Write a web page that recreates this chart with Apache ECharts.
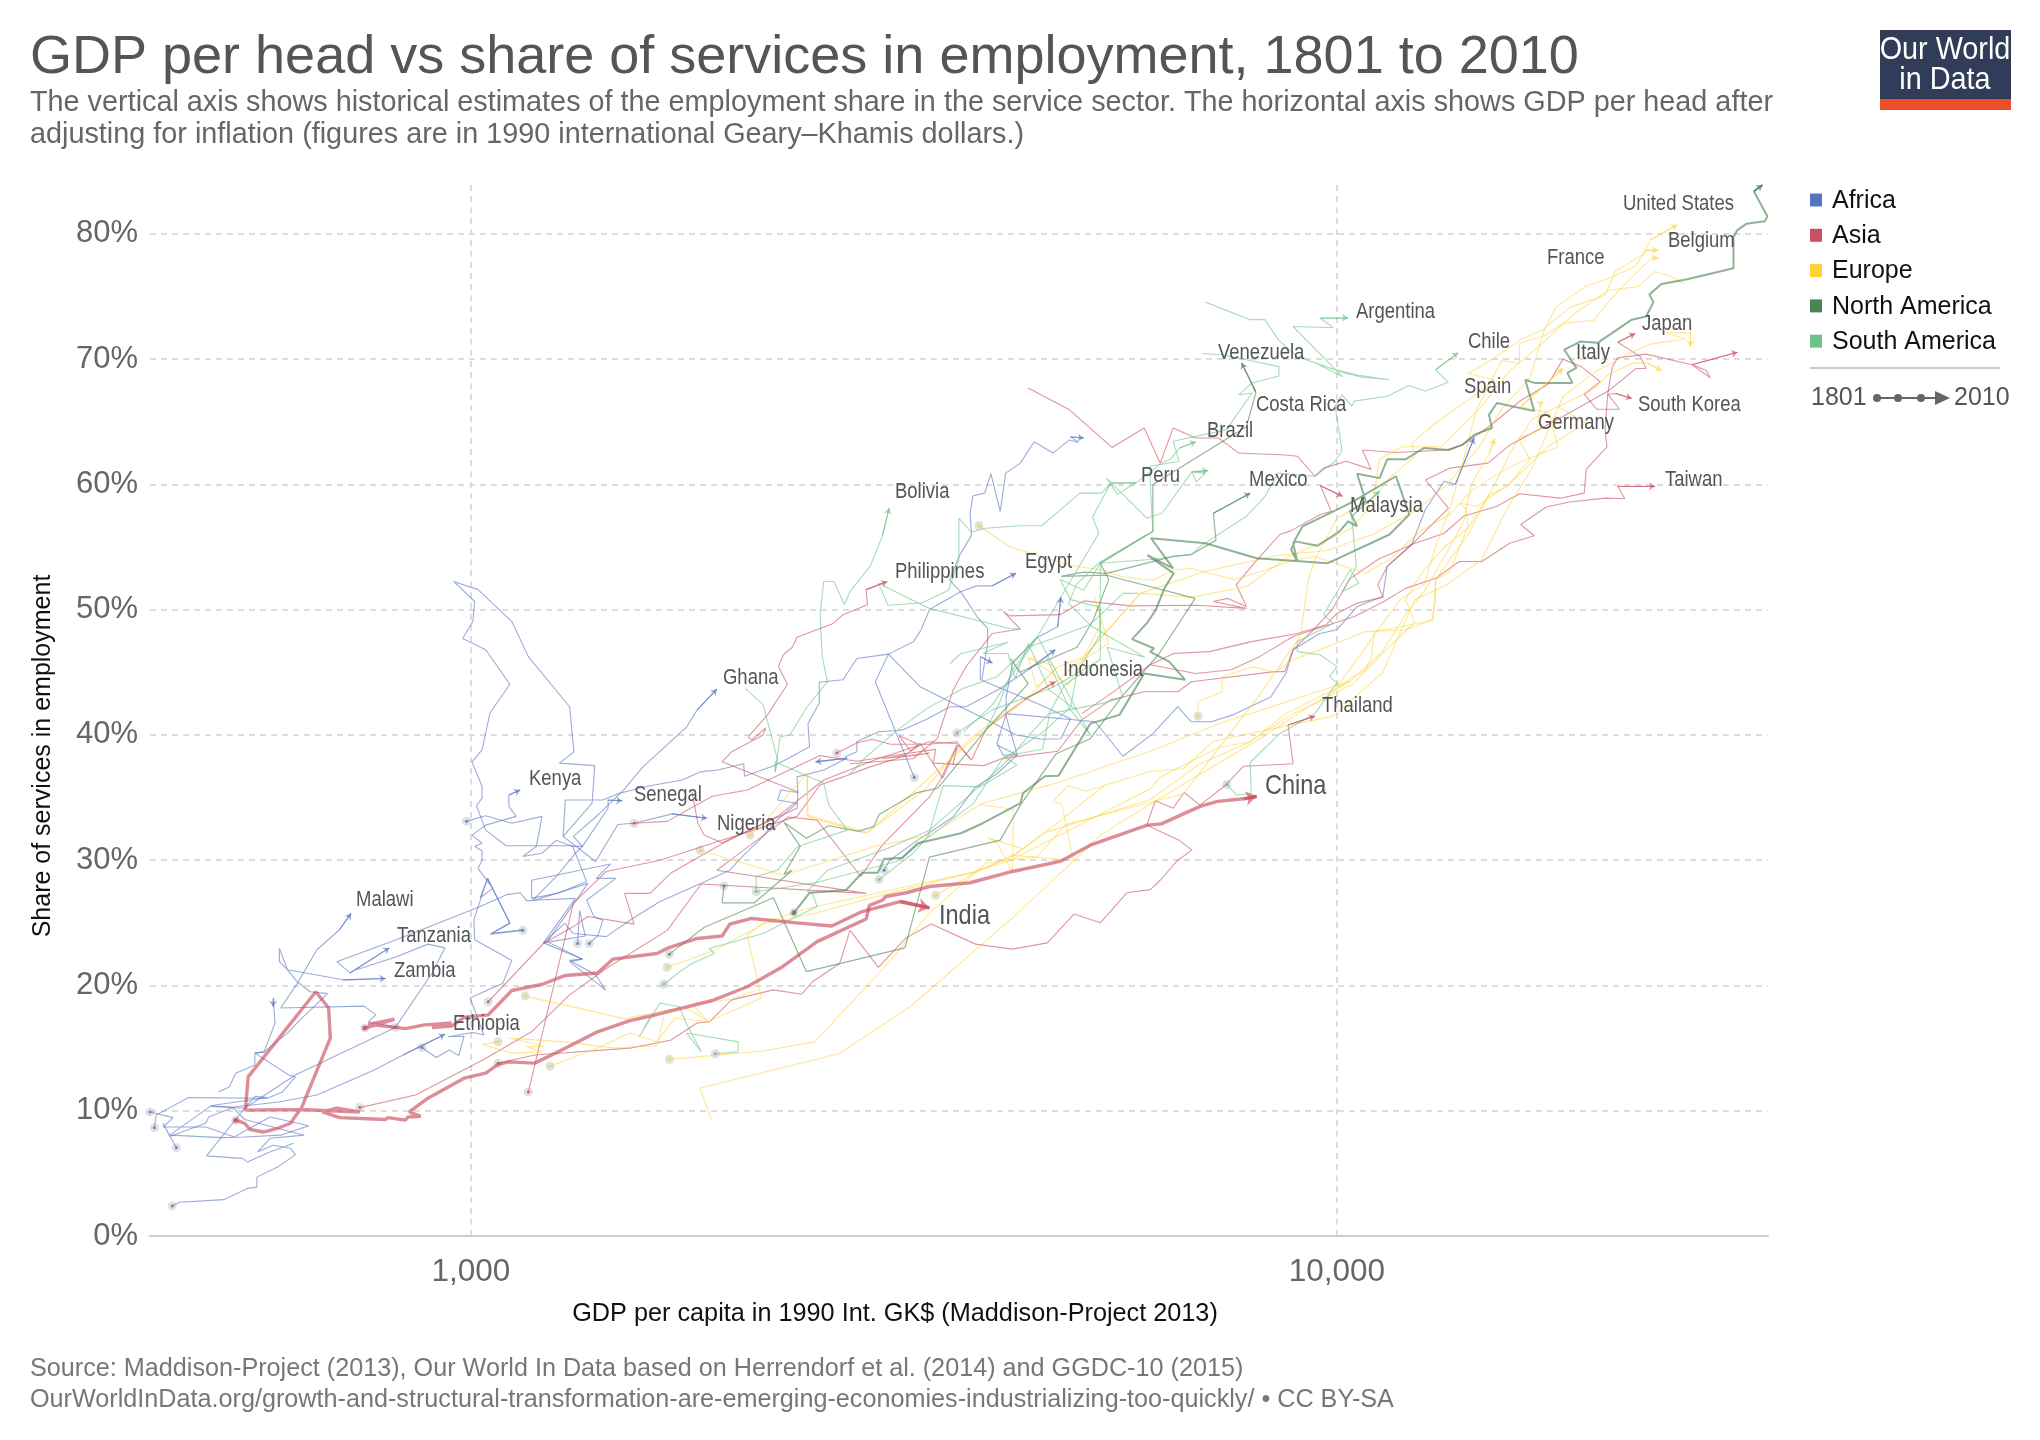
<!DOCTYPE html>
<html>
<head>
<meta charset="utf-8">
<title>GDP per head vs share of services in employment</title>
<script src="https://cdn.jsdelivr.net/npm/echarts@6/dist/echarts.min.js"></script>
<style>
  html, body { margin: 0; padding: 0; background: #fff; }
  #chart { width: 2040px; height: 1440px; }
</style>
</head>
<body>
<div id="chart"></div>
<script>
// values: [GDP per capita, share of services in %]
// Africa
var nigeria = [[1370,23.35],[1402,24],[1420,25.2],[1387,25.5],[1360,26.8],[1470,28.55],[1395,28.55],[1450,29.7],[1175,28.4],[1175,26.95],[1258,27.35],[1360,28.3],[1310,31.15],[1098,31.15],[1040,32.4],[1015,34.35],[1030,34.95],[1030,35.9],[1003,37.85],[1030,38.8],[1052,41.75],[1109,44.05],[1040,46.8],[978,47.7],[1005,49.05],[1010,50.65],[955,52.25],[1019,51.6],[1115,49.05],[1165,46.25],[1300,42.25],[1315,38.65],[1265,37.75],[1390,37.55],[1380,34.55],[1278,31.9],[1393,29.9],[1478,32.85],[1543,32.95],[1708,33.7],[1873,33.35]];
var kenya = [[1148,24.4],[1052,24.1],[1109,25],[1045,28.55],[1025,27],[1060,27.75],[1019,29.35],[1030,30],[1030,30.75],[1010,31.1],[1030,31.35],[1003,32],[1040,32.8],[1128,33.5],[1106,34.3],[1106,35.2],[1140,35.6]];
var tanzania = [[1430,19.65],[1393,20.85],[1300,22],[1345,22.1],[1225,23.5],[1365,28.15],[1185,26.8],[1160,26.75],[1140,27.4],[1100,27.25],[1025,26.3],[820,23.65],[700,21.9],[725,21],[805,23]];
var malawi = [[818,16.65],[761,17.1],[777,17.65],[753,18.35],[603,18.2],[630,20.15],[664,22.85],[705,24.45],[727,25.75]];
var zambia = [[431,8.65],[433,9.65],[472,11.05],[582,11],[606,11.5],[627,12.7],[616,12.85],[563,14.6],[577,14.7],[614,16.2],[635,17.25],[683,19.35],[652,19.5],[630,20.3],[614,21.25],[601,21.9],[601,22.95],[614,21.25],[712,20.45],[797,20.55]];
var africaA = [[511,11.5],[526,11.9],[535,13],[563,13.65],[563,14.6],[577,14.7],[594,17],[591,19],[591,18.3]];
var africaB = [[457,7.05],[441,9],[449,7.95],[494,9],[498,9.5],[533,10.3],[600,10.7],[664,11.25],[773,13.25],[835,14.45],[933,16.1]];
var africaC = [[878,15.05],[912,14.25],[944,14.85],[968,14.4],[982,15.95],[941,15.9],[1005,16.25],[1035,16.05],[998,19],[1047,19.65],[1088,20.15],[1115,22],[1010,23.65],[1008,25.25],[1045,28.55],[1109,24.95],[1057,24.15],[1148,24.45]];
var africaD = [[426,9.9],[453,9.45],[441,8.7],[494,8.7],[533,7.9],[586,9.5],[650,8.8],[603,8.05],[548,7.9],[516,7.85],[449,8.05],[500,10.35],[548,10.2],[627,12.85],[818,16.65],[902,21],[933,23],[892,23.3],[820,22.3],[738,21.25]];
var africaE = [[452,2.4],[461,2.7],[518,2.9],[552,3.8],[566,3.9],[566,4.7],[598,5.5],[627,6.5],[619,7],[591,7.25],[567,6.7],[586,7.8],[642,8.05],[598,8.6],[548,9.3],[530,10.3],[500,10.4],[582,11.05],[563,11.15],[548,10.2],[495,6.4],[545,6.2],[552,5.9],[586,6.7],[624,7.4]];
var ghana = [[988,33.1],[1040,33.55],[1115,32.95],[1208,33.5],[1190,31.1],[1148,30.3],[1208,30.55],[1255,31.6],[1310,31.1],[1345,31.1],[1313,31.9],[1409,33.75],[1500,35.6],[1580,37.45],[1775,40.65],[1825,42],[1923,43.65]];
var egypt = [[1278,31.9],[1285,34.8],[1420,34.8],[1485,35.35],[1598,35.9],[1755,36.4],[1839,37.05],[1928,37.2],[2065,37.7],[2070,36.7],[2250,37.6],[2460,39.05],[2450,40.9],[2525,42.55],[2525,44.2],[2690,44.4],[2790,46.1],[3035,46.45],[3245,47.45],[3310,48.4],[3385,50],[3440,50.3],[3680,51.45],[3840,51.9],[4000,51.9],[4260,52.9]];
var senegal = [[1328,23.35],[1335,26],[1355,23.95],[1213,23.4],[1320,26.95],[1178,26.8],[1255,28.7],[1320,30.55],[1345,31.1],[1440,34.15],[1440,34.8],[1495,34.75]];
var africaMid = [[1430,19.65],[1300,21.9],[1345,22.1],[1213,23.4],[1283,24.95],[1313,24.15],[1433,23.9],[1537,25.35],[1653,26.7],[1845,28.15],[1990,29.2],[2075,30.55],[2175,31.9],[2235,32.95],[2380,34.55],[2260,34.8],[2280,35.6],[2385,35.4],[2380,36.65],[2555,37.2],[2720,38.15],[2500,37.85]];
var africaLong = [[3250,36.6],[2930,44.25],[3035,46.45],[3300,43.85],[3575,42.65],[3985,41.05],[4260,40],[4570,39.65],[4800,39.7],[4925,41.3],[4510,42.5],[3875,44.4],[3875,46.25],[4000,45.75]];
var africaSeven = [[2705,38.25],[2790,38.65],[2790,39.45],[2955,40.25],[3105,40.35],[3150,40.4],[3345,41.2],[3575,42.25],[3730,42.25],[4085,43.7],[4400,45.2],[4730,46.8]];
var mauritius = [[3000,29.2],[3045,30],[3280,31.6],[3605,33.45],[3825,35.85],[4050,36.9],[4275,38.4],[4115,38.4],[4050,39.3],[4150,41.7],[5260,41.05],[5660,38.3],[6130,40.1],[6550,42.25],[6790,41.05],[7160,41.05],[7580,41.6],[8390,43.05],[8730,44.9],[8900,46.8],[9550,48.1],[10000,48.4],[10550,50.25],[11300,51.05],[11430,53.45],[12200,55.2],[12650,58],[13300,60.25],[13700,60],[14400,63.7]];
var africaTop = [[3890,44.4],[3950,47.3],[3950,48.5],[3840,49.45],[3690,51.3],[3570,52.35],[3660,54.25],[3785,55.95],[3770,57.7],[3800,59.1],[3920,59.3],[3985,60.85],[4085,57.85],[4145,60.9],[4310,61.7],[4470,63.4],[4700,62.5],[4910,63.55],[5030,63.35],[4925,63.8],[5100,63.7]];
var africaShort = [[4050,39.2],[4275,38.4],[4150,41.45],[4150,43.05],[4220,45.7],[4490,47.7],[4760,48.65],[4800,51]];

// Asia
var china = [[535,9.25],[548,9],[556,8.5],[576,8.3],[598,8.6],[619,9],[638,10.3],[688,15.8],[685,18.2],[662,19.5],[553,12.7],[549,10.05],[635,10.1],[744,9.9],[700,10.2],[674,9.9],[705,9.45],[797,9.3],[802,9.45],[840,9.25],[846,9.5],[875,9.55],[849,9.9],[892,11],[982,12.6],[1040,13],[1075,13.7],[1106,13.9],[1185,13.8],[1273,14.85],[1400,16.3],[1526,17.2],[1598,17.5],[1900,18.8],[2085,19.9],[2290,21.5],[2510,23.5],[2860,25.3],[2885,26.4],[2985,26.8],[3015,27.1],[3180,27.4],[3385,27.9],[3770,28.2],[4220,29.1],[4790,29.9],[5190,31.2],[6040,32.8],[6270,32.9],[6650,33.7],[6950,34.3],[7280,34.7],[7800,34.9],[8080,35.1]];
var india = [[754,16.6],[816,17.3],[761,16.9],[820,16.65],[840,16.55],[884,16.85],[950,17],[902,16.65],[950,16.75],[982,17.45],[1047,17.65],[1115,19.6],[1210,20.1],[1285,20.8],[1400,21],[1458,22.1],[1640,22.55],[1690,23],[1825,23.75],[1950,23.95],[1990,24.9],[2110,25.35],[2380,25],[2610,24.75],[2830,25.9],[3130,26.7],[3385,26.2]];
var philippines = [[1800,35.5],[1828,32.95],[1860,32],[1950,31.4],[2380,34.15],[2385,35.45],[1950,37.85],[2000,38.65],[2175,40],[2190,40.55],[2110,39.6],[2090,39.85],[2200,41.6],[2320,44.05],[2265,45.45],[2295,46.4],[2350,47],[2380,47.8],[2620,48.9],[2690,49.6],[2870,50.4],[2860,51.6],[3025,52.25]];
var japan = [[1543,32.95],[1685,33.1],[1900,35.1],[2085,35.6],[2530,38.35],[2790,37.9],[3035,38.3],[3440,38.85],[3420,37.75],[3910,37.55],[4120,38.15],[4760,38.7],[5075,41.2],[5480,42.8],[5990,43.45],[6550,43.45],[6790,44.25],[8470,45.05],[8700,45.05],[8900,46.8],[9430,48.5],[9870,50],[10360,52.5],[11150,54],[12200,55.2],[13450,58.1],[12650,60.35],[13510,61.3],[14940,61.7],[15800,63.1],[18000,65.2],[20620,67.5],[22150,69.25],[22750,69.25],[22400,70.2],[21100,71.35],[22100,72.05]];
var indonesia = [[2645,38.55],[2790,39.35],[2905,39.65],[3050,39.25],[3285,39.25],[3120,39.95],[3220,38.7],[3300,39.35],[3505,36.55],[3650,39.2],[3600,37.6],[3650,39.2],[3785,38],[3935,40.5],[4355,42.8],[4730,44.25]];
var malaysia = [[2740,37.7],[3240,38.1],[3455,39.7],[3605,43.6],[3730,45.45],[4000,48.1],[4310,48.45],[4120,49.85],[4190,49.5],[4790,49.6],[5100,50.7],[5770,50.3],[6880,50.35],[7860,50.1],[7200,50.65],[7480,50.9],[7860,50.25],[7650,52],[8090,54],[8590,56],[8820,56.25],[9570,57.6],[9850,57.85],[9570,59.9],[10150,59.05]];
var southKorea = [[4400,67.7],[4910,65.95],[5500,62.95],[5990,64.5],[6250,61.7],[6470,64.5],[6870,63.7],[7300,63.7],[7700,62.5],[8730,62.35],[9000,62.25],[9430,60.65],[9650,61.3],[10250,61.85],[10950,61.2],[10700,62.75],[11700,62.55],[13400,62.75],[13950,63.15],[14980,64.6],[16300,66.7],[17530,68],[18240,70],[19150,69.4],[20140,68.2],[19300,67.2],[19950,66],[21200,66],[20550,67.2],[21000,67.25],[21900,66.85]];
var taiwan = [[5075,41.7],[5560,43.6],[6086,45.6],[6870,44.9],[7550,45.2],[8140,46.25],[8900,47.85],[9650,48.65],[10480,49.45],[11330,50.65],[12000,51.7],[13000,52.5],[13850,53.85],[14700,53.85],[15830,55.3],[16900,55.9],[16300,56.8],[17450,58.2],[18550,58.6],[20400,58.9],[21500,58.85],[21100,59.85],[23300,59.85]];
var hongKong = [[6086,45.6],[6480,46.5],[7120,46.65],[7970,47.45],[9000,48.1],[9720,48.8],[10000,49.7],[10530,50.5],[11300,51],[11150,52],[11430,53.45],[12200,55.2],[13300,56.1],[14000,57.45],[15300,58.25],[16250,59.25],[18100,58.9],[19300,59.3],[19400,61.2],[20500,63],[20400,64.4],[20550,67.3],[20800,69.4],[21100,70.1],[22750,70.4],[25700,69.55],[27000,68.5],[26700,69.1],[25700,69.55],[29000,70.55]];
var asiaSix = [[1165,11.5],[1313,26.55],[1433,29.1],[1653,30],[1900,31.35],[2380,33.5],[2530,36],[2690,36.65],[2890,37.45],[3150,38.25],[3385,38.55],[2985,38.1],[3170,38.4],[3300,39.2],[3640,39.45],[3770,38.1]];
var asiaSeven = [[1047,18.7],[1213,23.35],[1313,24.7],[1365,25.5],[1360,25.55],[1543,24.9],[1505,27.35],[1610,27.35],[1700,28.95],[1955,31.35],[2260,33.5],[2555,36.4],[2925,38],[3385,39.45],[3640,39.3]];
var asiaEight = [[744,10.25],[863,11.25],[1032,14.05],[1175,16.3],[1300,19.25],[1433,21.35],[1685,24.4],[1845,28.1],[2860,27.35],[1923,29.2],[2065,30.8],[2325,33.45],[2510,33.2],[2820,28.7],[2985,31.2],[3385,35.05],[3490,36.5],[3640,39.2]];
var thailand = [[1075,13.8],[1185,14.45],[1526,15],[1700,15.63],[1825,17],[1885,17.1],[2000,18.85],[2235,19.65],[2410,19.3],[2480,20.3],[2665,21.75],[2740,24.4],[2955,21.45],[3180,23.8],[3400,24.9],[3825,23.3],[4220,22.9],[4630,23.4],[4970,25.7],[5330,25],[5720,27.4],[6090,27.65],[6250,28.4],[6550,30],[6800,30.8],[6570,31.6],[6030,32.8],[6170,34.75],[6470,34.15],[6660,35.4],[6950,34.4],[7440,36],[7800,37.5],[8900,37.7],[8780,40.8],[9430,41.5]];

// Europe
var spain = [[1685,21.45],[1910,22.8],[2085,24.2],[2180,24.9],[2510,25.8],[3035,27.35],[3810,29.05],[4220,30.3],[4600,32.2],[6090,34.85],[6950,37.7],[7860,39.3],[8900,41.7],[9650,42.8],[10360,44.5],[10800,45.2],[10950,46.1],[11040,48.25],[12000,48.7],[12900,49.2],[13000,50.8],[13000,52.4],[13500,53.05],[14170,56.65],[14100,57.95],[13900,58.5],[14500,58.25],[15800,60],[16700,62],[16400,63],[16200,63.7],[17000,64.2],[17200,66.5],[17300,66.6]];
var germany = [[1839,30.8],[2295,28.8],[2925,31.1],[3385,32],[3900,34.55],[4740,36.15],[6090,38.7],[7300,40.9],[8900,42.8],[10360,44.3],[11300,46.7],[12000,49.6],[12650,51.6],[13000,53],[13500,55],[14000,57],[14300,60],[15000,62.5],[15200,63.65]];
var italy = [[3860,56.7],[4190,55],[4925,53.55],[5380,53.15],[5620,52.65],[6120,52.35],[6480,53.15],[6770,53.3],[7630,52.4],[8250,53.15],[8900,53.95],[9430,54.25],[10800,52.9],[11500,54],[12500,56.3],[13500,57.6],[14300,59.5],[15300,60.8],[16300,61.8],[18000,63],[17600,65.7],[16300,66.2],[18240,69.25]];
var france = [[1695,14.1],[2165,14.75],[2495,15.5],[3035,21.8],[3385,25.8],[3930,29.75],[4510,30.3],[4860,32.85],[6650,35.3],[8100,43],[9070,47.85],[9270,52.4],[9430,54],[10000,57.3],[11050,59],[11500,60.5],[12300,62.25],[12200,63.3],[13000,64.9],[14280,66.9],[15200,68.35],[14170,68.85],[14930,69.75],[16250,71.5],[17400,72.45],[17900,74.15],[19300,75.75],[20780,76.55],[22100,77.4],[22750,78.7],[23480,78.7]];
var belgium = [[1155,19.15],[1505,17.35],[1765,18.3],[1880,17.1],[2165,19],[2085,24],[2175,25],[2445,26.15],[3385,28.3],[3810,29.05],[4200,30],[6090,35.7],[6250,36.65],[7300,39],[7940,39.45],[8730,41.7],[9550,43.05],[10360,44.25],[10000,43.85],[10600,46.25],[11830,50.8],[12600,52],[13000,55],[13500,58],[14000,62],[14500,66],[15500,69.9],[16250,69.65],[16250,71.25],[17400,71.9],[18240,72.85],[19800,73.1],[20650,74.7],[21900,76.55],[23100,78.05],[23480,78.1]];
var netherlands = [[2100,32],[2180,33],[2445,36.95],[2450,33.45],[2860,32.15],[3340,35.6],[3650,38.8],[3980,41],[4400,43],[4730,44.2],[5100,46.2],[5930,51.3],[7000,53],[8500,54.3],[9700,54.7],[11000,56],[12400,58],[13400,60],[14600,63],[15500,66],[16700,68.5],[17400,72.55],[18600,74.15],[20400,75.1],[21000,77.1],[21250,77.25],[22600,78.4],[23000,79.5],[24700,80.7]];
var europeSeven = [[1075,15.5],[1030,15.3],[1115,14.6],[1210,14.7],[1160,15.1],[1215,15.15],[1106,15.8],[1283,15.5],[1465,15],[1640,15.2],[1670,17.5]];
var europeEight = [[1234,13.55],[1400,15],[1526,16.2],[1640,15.5],[1720,17.4],[1880,17.1],[1800,18.5],[2000,18.9],[2130,19.6]];
var europeNine = [[6910,41.5],[6910,42.65],[7370,43.45],[7370,44.65],[8000,45.45],[8470,45],[8900,46],[9760,47.05],[10800,48.25],[12000,48.4],[12900,49.2],[13000,52.4],[14170,56],[15200,60],[16000,63],[16800,65.2],[18100,66.3]];
var europeTen = [[1895,9.3],[1839,11.8],[2660,14.55],[3215,18.3],[4220,25.4],[4960,29.9],[5330,32],[6100,34.5],[7000,37],[8100,39.6],[9400,42.5],[10400,44],[11600,47.3],[12300,49],[12000,50.8],[12550,53],[13300,55],[14170,56.5],[15000,59.2],[15700,59.8],[17500,63],[19400,64.9],[18000,66.2],[19800,67.6],[20600,68.8],[22000,69.7],[22800,69.7],[23700,69.1]];
var denmark = [[3440,27.2],[3800,28.9],[4220,30.4],[4960,30],[4810,34.45],[4700,34.7],[4890,35.95],[5130,35.5],[6090,37.1],[6650,37.3],[7200,39.5],[8700,40.7],[9900,41.5],[11300,45],[12300,50.8],[13400,52],[14700,54],[15700,58],[16800,61.3],[18240,67],[19800,68.9],[21500,70.3],[23000,71.2],[25300,71.6],[24000,72.1],[25600,72.1],[25600,71]];
var sweden = [[2445,36.7],[2445,33.6],[2870,32.2],[3450,37.1],[3900,40.3],[4380,42.8],[4750,45.4],[5100,46.2],[5930,51.3],[6800,51],[7860,51.85],[8800,54.25],[9700,55.5],[10400,56.5],[11000,58.5],[11200,62],[11900,63],[13200,63],[14600,66],[15800,69],[17100,71],[18700,73.5],[20600,75.5],[22300,75.8],[23300,77],[24300,76.6],[25200,76]];
var europeBox = [[3870,34.45],[4230,34.05],[4220,29],[4050,31.4],[3950,31.8],[4340,30.9],[4220,30.3],[4800,33.2],[5400,36]];
var europeLoop = [[4400,46.2],[4750,45.4],[4500,43.8],[4400,46.2],[4900,44],[5100,46.2],[5350,49],[5250,51],[5450,47.3],[5100,46]];

// North America
var unitedStates = [[2360,25.8],[2460,27.4],[2710,27.6],[2830,29],[2950,29],[3000,30.1],[3150,30.2],[3280,31.35],[3680,32.15],[3900,32.95],[4310,34.55],[4340,35.35],[4600,36.7],[4770,36.75],[5190,40.9],[5610,41.6],[5990,44.9],[6680,44.4],[6400,45.85],[6086,46.65],[6150,46.9],[5800,47.65],[6030,48.9],[6180,50],[6320,51.7],[6480,52.9],[6040,54.35],[6470,53.3],[6100,55.7],[7050,55.3],[8080,54.1],[9750,53.7],[11500,56],[12120,57.6],[11700,60.65],[10360,58.5],[9130,56.65],[8900,55.3],[9000,53.85],[8850,54.8],[8950,55.45],[9500,55.1],[10070,56.25],[10300,57.05],[10550,56.65],[10350,57.85],[10800,58.65],[10550,60.85],[11200,60.5],[11430,62],[12000,62],[12600,62.9],[13450,62.75],[13950,63.15],[14400,63.95],[15100,64.5],[14980,65.55],[15300,66.5],[16900,65.85],[16500,68.35],[16900,68.1],[18700,68.1],[18450,68.9],[18900,69.3],[18300,70.75],[19100,71.4],[20000,71.3],[21900,73.15],[22750,73.4],[23200,74.55],[22950,75.15],[23700,76],[25300,76.35],[28700,77.25],[28700,79.75],[29000,80.3],[29700,80.8],[31200,81],[31400,81.4],[30300,83.4],[31000,83.9]];
var mexico = [[1695,22.5],[1860,24.65],[2235,27],[2440,21.1],[3170,23],[3385,30.25],[4085,31.6],[4310,34.4],[4740,38.5],[5190,39.7],[5660,43.15],[6220,46.4],[6860,50.9],[5420,52.75],[4800,52.65],[5100,53],[5420,52.9],[6470,54.25],[6790,54.4],[7250,55.55],[7200,57.7],[7940,59.3]];
var costaRica = [[1960,27.95],[1950,26.6],[2125,26.6],[2350,29.2],[2300,28.9],[2400,31.1],[2300,33],[2440,31.75],[2590,32.75],[2800,32.3],[2920,32.7],[2960,33.65],[3260,35.35],[3460,35.75],[3900,40.1],[4400,44.1],[4200,46.1],[4300,45],[5010,47],[5230,49.15],[5450,52.4],[5330,53.7],[6130,56.25],[6130,60],[7860,64.6],[8060,67.3],[7930,68.35],[8060,67.4],[7760,69.7]];

// South America
var argentina = [[7050,74.55],[7940,73.15],[8250,73.15],[8570,71.5],[9000,70.2],[10200,68.9],[10700,68.55],[11500,68.35],[10600,68.7],[9900,69.2],[9430,69.7],[10150,68.6],[8900,72.6],[9900,72.5],[9560,73.3],[10300,73.3]];
var chile = [[3640,40.15],[4000,42],[4700,43.8],[5330,46],[5330,53.7],[6086,54],[6790,54.4],[6950,55.05],[7860,57.45],[8250,59],[8550,60.9],[9430,60.65],[9950,61.85],[10120,62.65],[10120,63],[9950,66.25],[10140,67.15],[10400,66.25],[10480,66.65],[11450,67.05],[12100,67.9],[12650,67.45],[13450,68.15],[13000,69.15],[13800,70.5]];
var bolivia = [[2135,27.5],[2135,28.7],[2260,29.2],[2385,31.1],[2720,32.4],[2590,34.4],[2555,36.15],[2245,37.85],[2245,37.05],[2275,39.85],[2335,40],[2445,42.25],[2580,44.25],[2545,46.25],[2530,49.6],[2555,52.25],[2625,52.25],[2700,50.4],[2740,51.45],[2890,53.45],[2985,55.85],[3040,58.1]];
var ghanaGreen = [[2075,43.7],[2175,42.4],[2260,38],[2245,37.05]];
var peru = [[4310,48.45],[4190,48.5],[3385,50.1],[2955,52.1],[3030,50.35],[3320,50.55],[3560,51.55],[3660,54],[3660,57.3],[3780,56.2],[3930,56.5],[4300,56.7],[4560,56.7],[5050,59.3],[5350,59.3],[5480,60.1],[5860,60.15],[5580,59.2],[5420,60.5],[6030,57.3],[6280,57.7],[6800,61],[7050,60.9],[6880,60.2],[6800,61],[7100,61.1]];
var brazil = [[3910,40.1],[4060,42.25],[4220,45.2],[4510,47.85],[5310,56.1],[5220,57.4],[5480,60.1],[5860,60.1],[6270,61.7],[6420,62],[6580,62.9],[6870,63.4]];
var venezuela = [[2140,27.5],[2500,28.2],[3100,29.9],[3400,32],[3800,34.5],[4100,38],[4570,40.2],[4925,42.2],[5010,45],[5330,48],[5320,50.2],[4925,50.8],[4790,52.4],[5100,51.55],[5330,53.7],[6130,56.25],[6086,60.1],[6086,61.45],[6570,61.85],[6470,63.45],[7450,64.35],[7980,67.3],[7700,67.15],[7980,68.1],[8570,68.65],[8570,69.4],[7860,69.95],[7350,70.35],[7000,70.45]];
var greenK = [[2960,28.45],[3240,30.55],[3370,31.9],[3510,35.95],[3870,35.85],[4270,37.6],[4120,38.3],[4570,38.85],[4660,41.7],[5340,42.5],[5660,43],[5430,47],[6000,46.2],[5200,48.7],[4900,50.5],[5000,52],[5300,53.7],[6030,56]];
var southSmall = [[1915,14.55],[2035,14.7],[2035,15.5],[1775,16.2],[1845,14.7],[1775,16.9],[1740,18.3],[1653,18.6],[1565,15.9],[1610,17.5]];
var colombia = [[1670,20.1],[1755,21.25],[1800,21.75],[1910,22.55],[1885,22.95],[2175,24.15],[2510,26.3],[2480,27.35],[2445,27.5],[2580,29.2],[3030,30.95],[3385,32.4],[3860,35.85],[4200,38.2],[4400,39.9],[4650,41.7],[4850,44],[5100,45]];
var greenU = [[2740,36.9],[2860,38.25],[3110,40.4],[3360,42.1],[3700,43.7],[4050,44.65],[4400,47],[4700,47.7],[5190,48.8],[5660,51.3],[5900,51.3]];
var greenW = [[3575,45.7],[3680,46.5],[4170,47.4],[3900,46.5],[4170,46.5],[4250,44.5],[4400,47.3],[4650,43.6],[5000,42]];
var greenX = [[3700,40.2],[4000,42.4],[4510,47.85],[5190,40],[4900,42.2],[4620,46.2]];
var ecuador = [[7460,36.05],[7660,35.2],[7960,35.3],[7940,37.8],[8570,40.05],[9430,41.7],[10000,44.15],[9800,44.65],[10000,45.45],[9560,46.4],[9000,46.65],[9000,47.45],[9900,48.9],[9650,49.6],[10360,53.2],[10600,52.1],[10150,51.45],[10530,53.45],[10400,57.45],[11200,59.45]];

// tick labels and text
var yTicks = [0, 10, 20, 30, 40, 50, 60, 70, 80];
var xTicks = [1000, 10000];
var groups = ["Africa", "Asia", "Europe", "North America", "South America"];
var groupColors = ["#5675c1", "#cc4f5f", "#ffd336", "#4c8353", "#6bc389"];

var africaLines = [nigeria, kenya, tanzania, malawi, zambia, africaA, africaB, africaC, africaD, africaE, ghana, egypt, senegal, africaMid, africaLong, africaSeven, mauritius, africaTop, africaShort];
var asiaLines = [philippines, japan, indonesia, malaysia, southKorea, taiwan, hongKong, asiaSix, asiaSeven, asiaEight, thailand];
var europeLines = [spain, germany, italy, france, belgium, netherlands, europeSeven, europeEight, europeNine, europeTen, denmark, sweden, europeBox, europeLoop];
var northLines = [mexico, costaRica];
var southLines = [argentina, chile, bolivia, ghanaGreen, peru, brazil, venezuela, greenK, southSmall, colombia, greenU, greenW, greenX, ecuador];

// only these traces show a start dot / an end arrow in the reference
var noStartDot = [tanzania, africaA, egypt, africaMid, africaSeven, africaTop, africaShort, philippines, malaysia, taiwan, hongKong, southKorea, europeTen, sweden, europeBox, europeLoop, argentina, ghanaGreen, peru, brazil, venezuela, greenU, greenW, greenX];
var noEndArrow = [africaC, africaD, africaE, asiaSix, asiaSeven, asiaEight, europeSeven, europeEight, europeNine, europeBox, europeLoop, sweden, ghanaGreen, venezuela, greenK, southSmall, colombia, greenU, greenW, greenX];

var countryLabels = [
  ["United States", 1623, 204], ["Belgium", 1668, 241], ["France", 1547, 258], ["Japan", 1642, 324],
  ["Italy", 1576, 353], ["South Korea", 1638, 405], ["Germany", 1538, 423], ["Taiwan", 1665, 480],
  ["Chile", 1468, 342], ["Spain", 1464, 387], ["Argentina", 1356, 312], ["Venezuela", 1218, 353],
  ["Costa Rica", 1256, 405], ["Brazil", 1207, 431], ["Peru", 1141, 476], ["Mexico", 1249, 480],
  ["Malaysia", 1350, 506], ["Bolivia", 895, 492], ["Philippines", 895, 572], ["Egypt", 1025, 562],
  ["Indonesia", 1063, 670], ["Thailand", 1322, 706], ["Ghana", 723, 678], ["Senegal", 634, 795],
  ["Nigeria", 717, 824], ["Kenya", 529, 779], ["Malawi", 356, 900], ["Tanzania", 397, 936],
  ["Zambia", 394, 971], ["Ethiopia", 453, 1024]
];
var bigLabels = [["China", 1265, 786], ["India", 939, 916]];

var FONT = "Liberation Sans, Arial, sans-serif";

function makeLine(points, color, width, opacity) {
  var last = points.length - 1;
  var hasDot = noStartDot.indexOf(points) < 0;
  var data = points.map(function(p, i) {
    if (i === 0 && hasDot) {
      return { value: p, symbol: "circle", symbolSize: width > 1.5 ? 5 : 3, itemStyle: { color: color, opacity: 0.8 } };
    }
    return p;
  });
  var s = {
    type: "line",
    data: data,
    symbol: "none",
    showSymbol: true,
    showAllSymbol: true,
    silent: true,
    z: width > 2 ? 5 : 3,
    lineStyle: { color: color, width: width, opacity: opacity }
  };
  if (noEndArrow.indexOf(points) < 0) {
    s.markLine = {
      silent: true,
      animation: false,
      symbol: ["none", "arrow"],
      symbolSize: width > 2 ? 11 : 6,
      label: { show: false },
      lineStyle: { color: color, width: width, opacity: opacity, type: "solid" },
      data: [[{ coord: points[last - 1] }, { coord: points[last] }]]
    };
  }
  return s;
}

var series = [];
var starts = [];
function addLines(lines, color, width, opacity) {
  lines.forEach(function(points) {
    series.push(makeLine(points, color, width, opacity));
    if (noStartDot.indexOf(points) < 0) {
      starts.push(points[0]);
    }
  });
}
addLines(africaLines, groupColors[0], 1.1, 0.6);
addLines(asiaLines, groupColors[1], 1.1, 0.6);
addLines(europeLines, groupColors[2], 1.1, 0.55);
addLines(northLines, groupColors[3], 1.2, 0.6);
addLines(southLines, groupColors[4], 1.1, 0.6);
addLines([unitedStates], groupColors[3], 2, 0.62);
addLines([china, india], groupColors[1], 3.4, 0.65);

// grey halo behind every starting point
series.unshift({
  type: "scatter",
  data: starts,
  symbolSize: 9,
  silent: true,
  z: 2,
  itemStyle: { color: "#bbb", opacity: 0.45 }
});

function text(str, x, y, size, fill, extra) {
  var el = {
    type: "text",
    x: x,
    y: y,
    silent: true,
    z: 20,
    style: { text: str, font: size + "px " + FONT, fill: fill, verticalAlign: "middle", align: (extra && extra.center) ? "center" : "left" }
  };
  if (extra) {
    Object.keys(extra).forEach(function(k) {
      if (k !== "center") { el[k] = extra[k]; }
    });
  }
  return el;
}

var graphics = [
  text("GDP per head vs share of services in employment, 1801 to 2010", 30, 58, 54, "#555"),
  text("The vertical axis shows historical estimates of the employment share in the service sector. The horizontal axis shows GDP per head after", 30, 103, 28.8, "#666"),
  text("adjusting for inflation (figures are in 1990 international Geary\u2013Khamis dollars.)", 30, 135, 28.8, "#666"),
  text("Source: Maddison-Project (2013), Our World In Data based on Herrendorf et al. (2014) and GGDC-10 (2015)", 30, 1369, 25.2, "#777"),
  text("OurWorldInData.org/growth-and-structural-transformation-are-emerging-economies-industrializing-too-quickly/ \u2022 CC BY-SA", 30, 1400, 25.2, "#777"),
  text("GDP per capita in 1990 Int. GK$ (Maddison-Project 2013)", 895, 1314, 25.25, "#111", { center: true }),
  text("Share of services in employment", 43, 756, 25, "#111", { center: true, rotation: Math.PI / 2 }),
  // logo
  { type: "rect", silent: true, z: 20, shape: { x: 1880, y: 30, width: 131, height: 69 }, style: { fill: "#313c58" } },
  { type: "rect", silent: true, z: 20, shape: { x: 1880, y: 99, width: 131, height: 11 }, style: { fill: "#ea4f2a" } },
  text("Our World", 1945, 50, 32, "#fff", { center: true, scaleX: 0.9 }),
  text("in Data", 1945, 80, 32, "#fff", { center: true, scaleX: 0.9 }),
  // time arrow under the legend
  { type: "line", silent: true, z: 20, shape: { x1: 1810, y1: 368, x2: 2000, y2: 368 }, style: { stroke: "#ccc", lineWidth: 2 } },
  text("1801", 1811, 398, 25, "#555"),
  text("2010", 1954, 398, 25, "#555"),
  { type: "line", silent: true, z: 20, shape: { x1: 1877, y1: 398, x2: 1940, y2: 398 }, style: { stroke: "#666", lineWidth: 2 } },
  { type: "circle", silent: true, z: 20, shape: { cx: 1877, cy: 398, r: 4 }, style: { fill: "#666" } },
  { type: "circle", silent: true, z: 20, shape: { cx: 1898, cy: 398, r: 4 }, style: { fill: "#666" } },
  { type: "circle", silent: true, z: 20, shape: { cx: 1921, cy: 398, r: 4 }, style: { fill: "#666" } },
  { type: "polygon", silent: true, z: 20, shape: { points: [[1935, 391], [1950, 398], [1935, 405]] }, style: { fill: "#666" } }
];

groups.forEach(function(name, i) {
  var cy = 200 + i * 35.3;
  graphics.push({ type: "rect", silent: true, z: 20, shape: { x: 1810, y: cy - 6.5, width: 12, height: 13 }, style: { fill: groupColors[i] } });
  graphics.push(text(name, 1832, cy + 1, 25, "#111"));
});
countryLabels.forEach(function(l) {
  graphics.push(text(l[0], l[1], l[2], 22, "#555", { scaleX: 0.84 }));
});
bigLabels.forEach(function(l) {
  graphics.push(text(l[0], l[1], l[2], 28, "#555", { scaleX: 0.84 }));
});

var myChart = echarts.init(document.getElementById("chart"), null, { renderer: "canvas" });
var option = {
  animation: false,
  backgroundColor: "#fff",
  grid: { left: 150, right: 272, top: 185, bottom: 204, containLabel: false },
  xAxis: {
    type: "log",
    logBase: 10,
    min: 426,
    max: 31460,
    axisLine: { show: true, onZero: false, lineStyle: { color: "#ccc", width: 2 } },
    axisTick: { show: false },
    minorTick: { show: false },
    axisLabel: {
      fontSize: 31.5,
      fontFamily: FONT,
      color: "#666",
      margin: 20,
      showMinLabel: false,
      showMaxLabel: false,
      formatter: function(v) {
        return xTicks.indexOf(Math.round(v)) >= 0 ? Math.round(v).toLocaleString("en-US") : "";
      }
    },
    splitLine: { show: true, showMinLine: false, showMaxLine: false, lineStyle: { color: "#ddd", width: 2, type: [6, 5] } }
  },
  yAxis: {
    type: "value",
    min: 0,
    max: 83.9,
    interval: 10,
    axisLine: { show: false },
    axisTick: { show: false },
    axisLabel: {
      fontSize: 31,
      fontFamily: FONT,
      color: "#666",
      margin: 12,
      showMaxLabel: false,
      formatter: function(v) {
        return yTicks.indexOf(v) >= 0 ? v + "%" : "";
      }
    },
    splitLine: { show: true, showMinLine: false, showMaxLine: false, lineStyle: { color: "#ddd", width: 2, type: [6, 5] } }
  },
  series: series,
  graphic: graphics
};
myChart.setOption(option);
window.addEventListener("resize", function() {
  myChart.resize();
});
</script>
</body>
</html>
